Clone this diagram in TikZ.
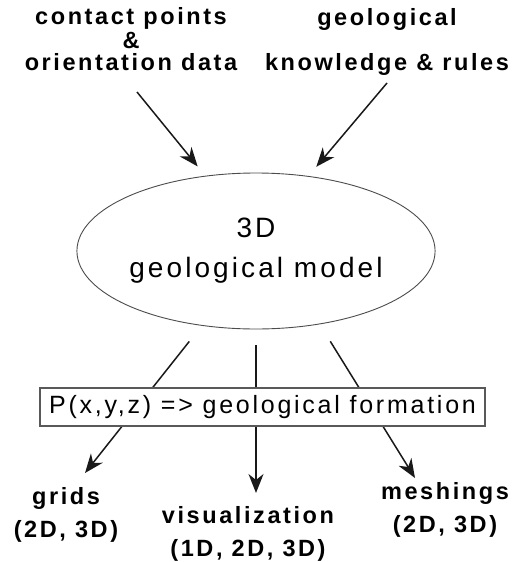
\documentclass[tikz,border=0pt]{standalone}
\usepackage{fontspec}
\setmainfont{Liberation Sans}
\newfontfamily\spacedfont[LetterSpace=11]{Liberation Sans}
\usetikzlibrary{arrows.meta,shapes.geometric}
\tikzset{
  arr/.style={-{Stealth[length=19pt,width=15pt,inset=6pt]}, line width=1.5pt, draw=black!90},
  lbl/.style={align=center, inner sep=0pt, anchor=base,
    font=\spacedfont\bfseries\fontsize{23.5}{21}\selectfont},
  outlbl/.style={lbl, font=\spacedfont\bfseries\fontsize{23.5}{33}\selectfont},
  modelshape/.style={ellipse, draw=black!70, line width=0.9pt, inner sep=0pt,
    minimum width=348pt, minimum height=156pt, align=center,
    font=\spacedfont\fontsize{28}{40}\selectfont},
  rulebox/.style={rectangle, draw=black!65, line width=1.1pt, fill=white, inner sep=0pt,
    minimum width=445pt, minimum height=38pt,
    font=\spacedfont\fontsize{25}{30}\selectfont}
}

\begin{document}
\begin{tikzpicture}[x=1pt,y=-1pt]
\newcommand{\topgap}{12pt}
\newcommand{\botgap}{20pt}
\useasboundingbox (0,0) rectangle (524,562);

% inputs (base = last line)
\node [lbl] (contact) at (131,70) {contact points\\[1pt]\&\\[1pt]orientation data};
\node [lbl] (knowledge) at (387,70) {geological\\[21pt]knowledge \& rules};

% the model
\node [modelshape] (model) at (256,251) {3D\\geological model};

% outputs
\node [outlbl] (grids) at (66,537) {grids\\(2D, 3D)};
\node [outlbl] (visu) at (248,556) {visualization\\(1D, 2D, 3D)};
\node [outlbl] (mesh) at (445,532) {meshings\\(2D, 3D)};

\coordinate (contactout) at (137,92);
\coordinate (knowout) at (387,83);
\coordinate (gridsin) at (85,473);
\coordinate (visuin) at (256,493);
\coordinate (meshin) at (415,478);

\draw [arr, shorten >=\topgap] (contactout) -- (model.124);
\draw [arr, shorten >=\topgap] (knowout) -- (model.55);
\draw [arr, shorten <=\botgap] (model.234) -- (gridsin);
\draw [arr, shorten <=16pt] (model.south) -- (visuin);
\draw [arr, shorten <=\botgap] (model.-49) -- (meshin);

\node [rulebox] (rule) at (262.5,407) {P(x,y,z) => geological formation};
\end{tikzpicture}
\end{document}
